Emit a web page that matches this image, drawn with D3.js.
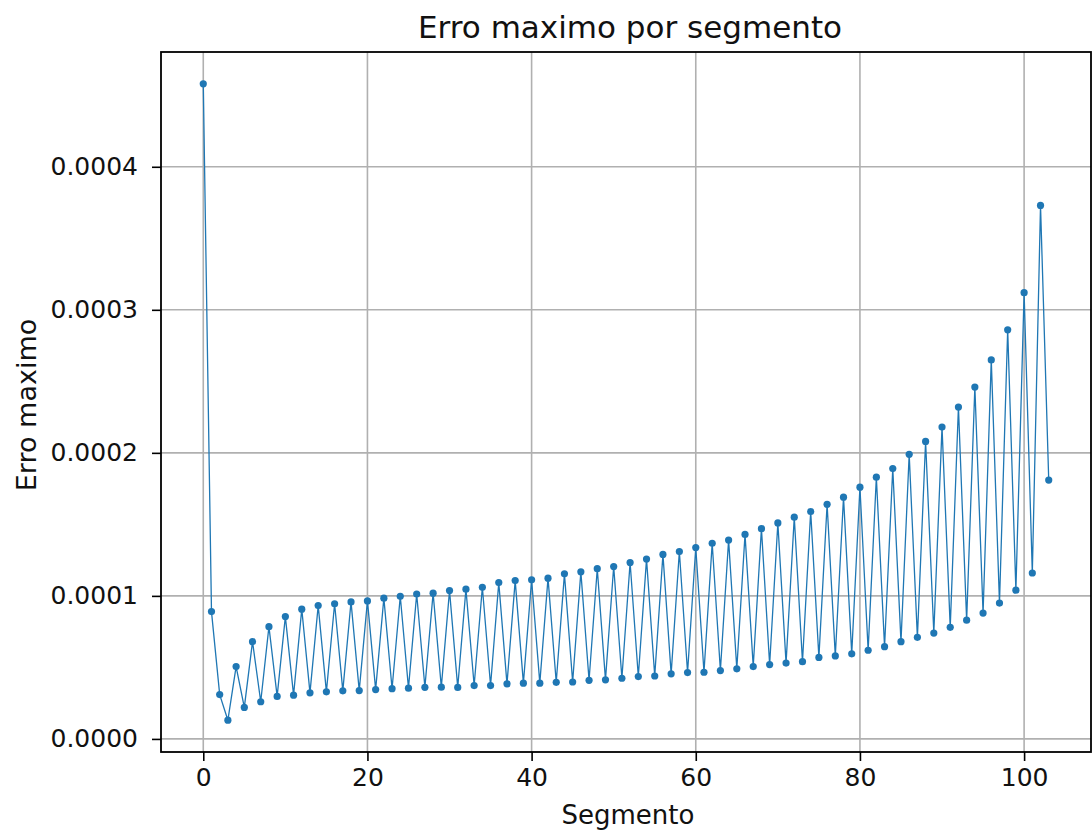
<!DOCTYPE html>
<html>
<head>
<meta charset="utf-8">
<script src="https://cdn.jsdelivr.net/npm/d3@7"></script>
<style>
  body { margin: 0; background: #fff; }
  svg { display: block; font-family: "DejaVu Sans", sans-serif; }
</style>
</head>
<body>
<div id="chart"></div>
<script>
'use strict';

const w = 1092;
const h = 832;

// Max error per segment, in units of 1e-4
const erroMaximo = [
  4.58, 0.89, 0.31, 0.131, 0.506, 0.22, 0.68, 0.26, 0.785, 0.297,
  0.855, 0.306, 0.907, 0.322, 0.932, 0.329, 0.945, 0.336, 0.958, 0.338,
  0.965, 0.345, 0.984, 0.351, 0.997, 0.355, 1.013, 0.361, 1.019, 0.362,
  1.037, 0.360, 1.047, 0.373, 1.06, 0.373, 1.093, 0.385, 1.107, 0.39,
  1.112, 0.39, 1.124, 0.396, 1.154, 0.398, 1.168, 0.41, 1.19, 0.413,
  1.205, 0.424, 1.233, 0.436, 1.257, 0.44, 1.29, 0.455, 1.31, 0.464,
  1.338, 0.466, 1.368, 0.478, 1.39, 0.49, 1.43, 0.506, 1.47, 0.52,
  1.51, 0.53, 1.55, 0.54, 1.59, 0.57, 1.64, 0.58, 1.69, 0.595,
  1.76, 0.62, 1.83, 0.645, 1.89, 0.68, 1.99, 0.71, 2.08, 0.74,
  2.18, 0.78, 2.32, 0.83, 2.46, 0.88, 2.65, 0.95, 2.86, 1.04,
  3.12, 1.16, 3.73, 1.81
].map(v => v * 1e-4);

const xTicks = [0, 20, 40, 60, 80, 100];
const yTicks = [0, 0.0001, 0.0002, 0.0003, 0.0004];

const title = "Erro maximo por segmento";
const xLabel = "Segmento";
const yLabel = "Erro maximo";

const pts = erroMaximo.map((v, i) => ({seg: i, val: v}));

// plot box
const pLeft = 161, pRight = 1091, pTop = 52, pBottom = 752;

// matplotlib-like 5% margins
const xExt = d3.extent(pts, d => d.seg);
const yExt = d3.extent(pts, d => d.val);
const xPad = (xExt[1] - xExt[0]) * 0.05;
const yPad = (yExt[1] - yExt[0]) * 0.05;

const x = d3.scaleLinear().domain([xExt[0] - xPad, xExt[1] + xPad]).range([pLeft, pRight]);
const y = d3.scaleLinear().domain([yExt[0] - yPad, yExt[1] + yPad]).range([pBottom, pTop]);

const svg = d3.select("#chart").append("svg").
attr("width", w).
attr("height", h);

const tickLen = 9;
const fs = 25;

//Grid
svg.append("g").selectAll("line").
data(xTicks).
enter().
append("line").
attr("x1", d => x(d)).attr("x2", d => x(d)).
attr("y1", pTop).attr("y2", pBottom).
attr("stroke", "#b0b0b0").attr("stroke-width", 1.6);

svg.append("g").selectAll("line").
data(yTicks).
enter().
append("line").
attr("x1", pLeft).attr("x2", pRight).
attr("y1", d => y(d)).attr("y2", d => y(d)).
attr("stroke", "#b0b0b0").attr("stroke-width", 1.6);

//Axes via d3
const xAxis = d3.axisBottom(x).tickValues(xTicks).tickFormat(d3.format("d")).tickSize(tickLen).tickPadding(6);
const yAxis = d3.axisLeft(y).tickValues(yTicks).tickFormat(d3.format(".4f")).tickSize(tickLen).tickPadding(14);

const gx = svg.append("g").attr("transform", `translate(0,${pBottom})`).call(xAxis);
const gy = svg.append("g").attr("transform", `translate(${pLeft},0)`).call(yAxis);

[gx, gy].forEach(g => {
  g.select(".domain").remove();
  g.selectAll(".tick line").attr("stroke", "#000").attr("stroke-width", 1.6);
  g.selectAll(".tick text").attr("fill", "#111").
  style("font-family", "'DejaVu Sans', sans-serif").
  style("font-size", fs + "px");
});
gx.selectAll(".tick text").attr("dy", "0.76em");

//Data line + markers
const line = d3.line().x(d => x(d.seg)).y(d => y(d.val));

svg.append("path").
datum(pts).
attr("d", line).
attr("fill", "none").
attr("stroke", "#1f77b4").
attr("stroke-width", 1.3);

svg.append("g").selectAll("circle").
data(pts).
enter().
append("circle").
attr("cx", d => x(d.seg)).
attr("cy", d => y(d.val)).
attr("r", 3.6).
attr("fill", "#1f77b4");

//Frame
svg.append("rect").
attr("x", pLeft).attr("y", pTop).
attr("width", pRight - pLeft).attr("height", pBottom - pTop).
attr("fill", "none").attr("stroke", "#000").attr("stroke-width", 1.8);

//Titles
svg.append("text").
attr("x", 630).
attr("y", 38).
attr("text-anchor", "middle").
attr("fill", "#111").
style("font-size", "31px").
text(title);

svg.append("text").
attr("x", 628).
attr("y", 824).
attr("text-anchor", "middle").
attr("fill", "#111").
style("font-size", "26px").
text(xLabel);

svg.append("text").
attr("transform", `translate(36,405) rotate(-90)`).
attr("text-anchor", "middle").
attr("fill", "#111").
style("font-size", "27px").
text(yLabel);
</script>
</body>
</html>
